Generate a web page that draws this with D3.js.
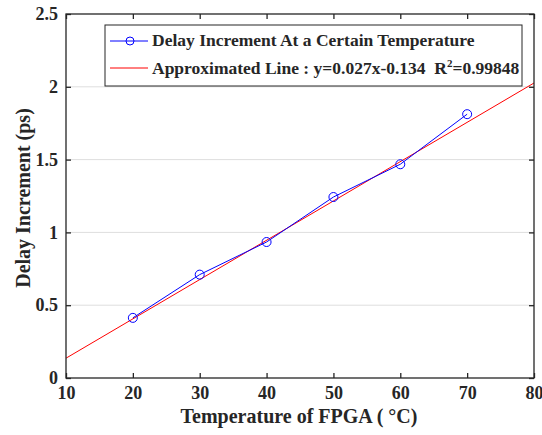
<!DOCTYPE html>
<html>
<head>
<meta charset="utf-8">
<script src="https://cdn.jsdelivr.net/npm/d3@7"></script>
<style>
  body { margin: 0; background: #fff; }
  text { font-family: "Liberation Serif", "Times New Roman", serif; font-weight: bold; fill: #262626; white-space: pre; }
</style>
</head>
<body>
<div id="chart"></div>
<script>
// Data
const temperatures = [20, 30, 40, 50, 60, 70];
const delayIncrements = [0.413, 0.71, 0.934, 1.243, 1.468, 1.812];
const fitSlope = 0.027;
const fitIntercept = -0.134;
const xTicks = [10, 20, 30, 40, 50, 60, 70, 80];
const yTicks = [0, 0.5, 1, 1.5, 2, 2.5];
const legendLabels = ["Delay Increment At a Certain Temperature", "Approximated Line : y=0.027x-0.134  R", "=0.99848"];

// Dimensions
const dimensions = {
  width: 542,
  height: 435,
  margin: { top: 14, right: 8, bottom: 57, left: 66 }
};
dimensions.containerWidth = dimensions.width - dimensions.margin.left - dimensions.margin.right;
dimensions.containerHeight = dimensions.height - dimensions.margin.top - dimensions.margin.bottom;

const svg = d3.select("#chart")
  .append("svg")
  .attr("width", dimensions.width)
  .attr("height", dimensions.height);

const container = svg.append("g")
  .attr("transform", `translate(${dimensions.margin.left}, ${dimensions.margin.top})`);

// Scales
const xScale = d3.scaleLinear().domain([10, 80]).range([0, dimensions.containerWidth]);
const yScale = d3.scaleLinear().domain([0, 2.5]).range([dimensions.containerHeight, 0]);

// Grid
container.append("g")
  .selectAll("line")
  .data(yTicks.filter(d => d > 0 && d < 2.5))
  .join("line")
  .attr("x1", 0)
  .attr("x2", dimensions.containerWidth)
  .attr("y1", d => yScale(d))
  .attr("y2", d => yScale(d))
  .attr("stroke", "#dedede")
  .attr("stroke-width", 1);

// Clip
svg.append("defs").append("clipPath").attr("id", "clip")
  .append("rect")
  .attr("width", dimensions.containerWidth)
  .attr("height", dimensions.containerHeight);

// Fitted line
container.append("line")
  .attr("clip-path", "url(#clip)")
  .attr("x1", xScale(10))
  .attr("y1", yScale(fitSlope * 10 + fitIntercept))
  .attr("x2", xScale(80))
  .attr("y2", yScale(fitSlope * 80 + fitIntercept))
  .attr("stroke", "#ff0000")
  .attr("stroke-width", 1);

// Data line
const points = temperatures.map((t, i) => [t, delayIncrements[i]]);
container.append("path")
  .datum(points)
  .attr("fill", "none")
  .attr("stroke", "#0000ff")
  .attr("stroke-width", 1)
  .attr("d", d3.line().x(d => xScale(d[0])).y(d => yScale(d[1])));

container.selectAll("circle.dot")
  .data(points)
  .join("circle")
  .attr("class", "dot")
  .attr("cx", d => xScale(d[0]))
  .attr("cy", d => yScale(d[1]))
  .attr("r", 4.5)
  .attr("fill", "none")
  .attr("stroke", "#0000ff")
  .attr("stroke-width", 1);

// Axes
const styleAxis = (g) => {
  g.select(".domain").remove();
  g.selectAll(".tick line").attr("stroke", "#262626").attr("stroke-width", 1.3);
  g.selectAll(".tick text").style("font-size", "18px").style("font-family", "Liberation Serif").style("font-weight", "bold").attr("fill", "#262626");
};

container.append("g")
  .attr("transform", `translate(0, ${dimensions.containerHeight})`)
  .call(d3.axisBottom(xScale).tickValues(xTicks).tickSizeInner(-5).tickSizeOuter(0).tickPadding(7).tickFormat(d3.format("d")))
  .call(styleAxis)
  .call(g => g.selectAll(".tick text").attr("dy", "0.8em"));

container.append("g")
  .call(d3.axisTop(xScale).tickValues(xTicks).tickSizeInner(-5).tickSizeOuter(0).tickFormat(""))
  .call(styleAxis);

container.append("g")
  .call(d3.axisLeft(yScale).tickValues(yTicks).tickSizeInner(-5).tickSizeOuter(0).tickPadding(8).tickFormat(d => String(d)))
  .call(styleAxis);

container.append("g")
  .attr("transform", `translate(${dimensions.containerWidth}, 0)`)
  .call(d3.axisRight(yScale).tickValues(yTicks).tickSizeInner(-5).tickSizeOuter(0).tickFormat(""))
  .call(styleAxis);

// Box
container.append("rect")
  .attr("width", dimensions.containerWidth)
  .attr("height", dimensions.containerHeight)
  .attr("fill", "none")
  .attr("stroke", "#262626")
  .attr("stroke-width", 1.3);

// Axis titles
svg.append("text")
  .attr("x", 299)
  .attr("y", 423)
  .attr("text-anchor", "middle")
  .style("font-size", "20px")
  .text("Temperature of FPGA ( °C)");

svg.append("text")
  .attr("transform", `translate(30, 198) rotate(-90)`)
  .attr("text-anchor", "middle")
  .style("font-size", "20px")
  .text("Delay Increment (ps)");

// Legend
const legend = svg.append("g").attr("transform", "translate(105, 25)");
legend.append("rect")
  .attr("width", 417)
  .attr("height", 61)
  .attr("fill", "#fff")
  .attr("stroke", "#262626")
  .attr("stroke-width", 1);

legend.append("line")
  .attr("x1", 5).attr("x2", 43).attr("y1", 16).attr("y2", 16)
  .attr("stroke", "#0000ff");
legend.append("circle")
  .attr("cx", 25).attr("cy", 16).attr("r", 4)
  .attr("fill", "none").attr("stroke", "#0000ff");
legend.append("text")
  .attr("x", 47).attr("y", 21)
  .style("font-size", "17.5px")
  .text(legendLabels[0]);

legend.append("line")
  .attr("x1", 5).attr("x2", 43).attr("y1", 43).attr("y2", 43)
  .attr("stroke", "#ff0000");
const t2 = legend.append("text")
  .attr("x", 47).attr("y", 49)
  .style("font-size", "17.5px");
t2.append("tspan").text(legendLabels[1]);
t2.append("tspan").attr("dy", -7).style("font-size", "11px").text("2");
t2.append("tspan").attr("dy", 7).text(legendLabels[2]);
</script>
</body>
</html>
